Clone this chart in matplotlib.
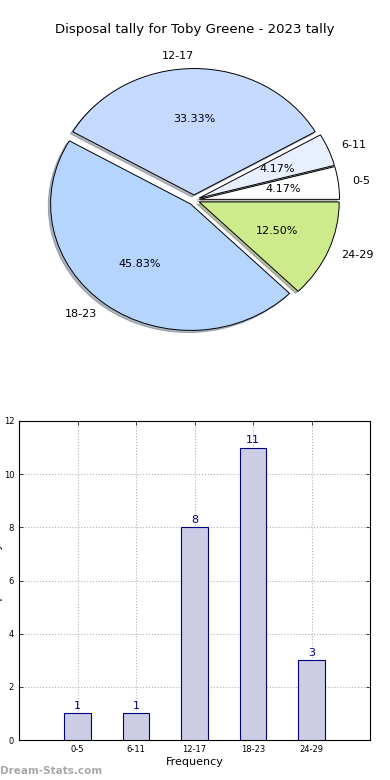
import matplotlib
matplotlib.use("Agg")
import matplotlib.pyplot as plt

categories = ["0-5", "6-11", "12-17", "18-23", "24-29"]
counts = [1, 1, 8, 11, 3]
pie_colors = ["#ffffff", "#e8f0ff", "#c6d9ff", "#b5d5ff", "#cdeb8b"]
yticks = [0, 2, 4, 6, 8, 10, 12]

fig = plt.figure(figsize=(3.9, 7.8), dpi=100)

# Pie chart
axp = fig.add_axes([19/390, 1 - 358/780, 350/390, 316/780])
wedges, texts, autotexts = axp.pie(
    counts, labels=categories, colors=pie_colors, explode=[0.04]*5,
    autopct="%1.2f%%", shadow=dict(ox=-0.012, oy=-0.012, shade=0.5),
    startangle=0, counterclock=True,
    wedgeprops=dict(edgecolor="black", linewidth=0.7),
    textprops=dict(fontsize=8, color="black"))
axp.set_aspect("auto")
axp.set_xlim(-1.25, 1.25)
axp.set_ylim(-1.25, 1.25)
fig.text(0.5, 1 - 30/780, "Disposal tally for Toby Greene - 2023 tally",
         ha="center", va="center", fontsize=9.5)

# Bar chart
axb = fig.add_axes([19/390, 1 - 740/780, 351/390, 319/780])
x = list(range(len(categories)))
bars = axb.bar(x, counts, width=0.45, color="#cccce5", edgecolor="#000080",
               linewidth=0.8, zorder=3)
for xi, c in zip(x, counts):
    axb.text(xi, c + 0.1, str(c), ha="center", va="bottom", fontsize=8,
             color="#000080", zorder=4)
axb.set_xlim(-1, 5)
axb.set_ylim(0, 12)
axb.set_xticks(x)
axb.set_xticklabels(categories)
axb.set_yticks(yticks)
axb.tick_params(axis="both", labelsize=6, direction="in", top=True, right=True,
                length=3, width=0.5)
axb.grid(True, linestyle=":", color="#b0b0b0", linewidth=0.8, zorder=0)
axb.set_axisbelow(True)
axb.set_xlabel("Frequency", fontsize=8, labelpad=2)
axb.set_ylabel("Disposal Tally", fontsize=8)
axb.yaxis.set_label_coords(-0.046, 0.5)

fig.text(0, 1 - 771/780, "Dream-Stats.com", ha="left", va="center",
         fontsize=7.5, color="#a8a8a8", fontweight="bold")

fig.savefig("out.png", dpi=100)
